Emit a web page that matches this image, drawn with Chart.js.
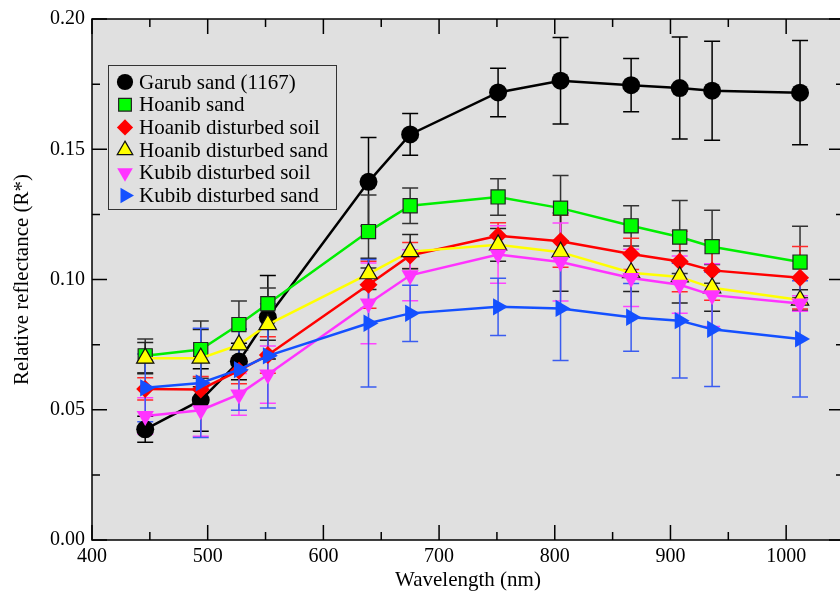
<!DOCTYPE html>
<html>
<head>
<meta charset="utf-8">
<script src="https://cdn.jsdelivr.net/npm/chart.js@4"></script>
<style>
  html, body { margin: 0; padding: 0; overflow: hidden; background: #fff; }
  #wrap { position: absolute; left: 0; top: 0; width: 860px; height: 598px; }
</style>
</head>
<body>
<div id="wrap"><canvas id="myChart"></canvas></div>
<script>
// wavelengths (nm)
const wavelengths = [446, 494, 527, 552, 639, 675, 751, 805, 866, 908, 936, 1012];

// series values and their errors (R*)
const garubSand = [0.0425, 0.0537, 0.0685, 0.0855, 0.1375, 0.1557, 0.1718, 0.1763, 0.1746, 0.1735, 0.1725, 0.1717];
const garubSandErr = [0.005, 0.012, 0.007, 0.016, 0.017, 0.008, 0.0093, 0.0166, 0.0102, 0.0196, 0.019, 0.020];

const hoanibSand = [0.0707, 0.0731, 0.0827, 0.0907, 0.1184, 0.1283, 0.1317, 0.1274, 0.1206, 0.1163, 0.1126, 0.1067];
const hoanibSandErr = [0.0065, 0.011, 0.009, 0.006, 0.014, 0.0068, 0.007, 0.0125, 0.0077, 0.014, 0.014, 0.0137];

const hoanibDistSoil = [0.058, 0.0578, 0.065, 0.071, 0.098, 0.1092, 0.1168, 0.1147, 0.1098, 0.1069, 0.1035, 0.1007];
const hoanibDistSoilErr = [0.0043, 0.005, 0.005, 0.007, 0.009, 0.005, 0.005, 0.01, 0.006, 0.0116, 0.0115, 0.012];

const hoanibDistSand = [0.0698, 0.0698, 0.0749, 0.0827, 0.1022, 0.1107, 0.1133, 0.1105, 0.1026, 0.101, 0.0968, 0.0921];
const hoanibDistSandErr = [0.006, 0.011, 0.006, 0.006, 0.006, 0.0066, 0.0063, 0.015, 0.0072, 0.01, 0.009, 0.004];

const kubibDistSoil = [0.0476, 0.0498, 0.0559, 0.0635, 0.0908, 0.1016, 0.1096, 0.1067, 0.1006, 0.098, 0.094, 0.0908];
const kubibDistSoilErr = [0.007, 0.010, 0.008, 0.011, 0.0155, 0.0098, 0.011, 0.015, 0.011, 0.011, 0.012, 0.003];

const kubibDistSand = [0.0584, 0.0603, 0.0654, 0.0707, 0.0832, 0.087, 0.0895, 0.0889, 0.0855, 0.0842, 0.0809, 0.0772];
const kubibDistSandErr = [0.013, 0.021, 0.0156, 0.020, 0.0245, 0.0108, 0.011, 0.02, 0.013, 0.022, 0.022, 0.0223];

// tick labels
const xTicks = [400, 500, 600, 700, 800, 900, 1000];
const yTicks = [0, 0.05, 0.10, 0.15, 0.20];

const serif = "'Liberation Serif', 'DejaVu Serif', serif";

function pts(values) {
  return values.map((v, i) => ({ x: wavelengths[i], y: v }));
}

const series = [
  { label: 'Garub sand (1167)', data: garubSand, err: garubSandErr, line: '#000000', fill: '#000000', edge: '#000000', errColor: '#000000', style: 'circle', radius: 9, rotation: 0, edgeWidth: 0 },
  { label: 'Hoanib sand', data: hoanibSand, err: hoanibSandErr, line: '#00ee00', fill: '#00ff00', edge: '#222222', errColor: '#333333', style: 'rect', radius: 10, rotation: 0, edgeWidth: 1.2 },
  { label: 'Hoanib disturbed soil', data: hoanibDistSoil, err: hoanibDistSoilErr, line: '#ff0000', fill: '#ff0000', edge: '#ff0000', errColor: '#ff2a2a', style: 'rectRot', radius: 9, rotation: 0, edgeWidth: 0 },
  { label: 'Hoanib disturbed sand', data: hoanibDistSand, err: hoanibDistSandErr, line: '#ffff00', fill: '#ffff00', edge: '#111111', errColor: '#222222', style: 'triangle', radius: 10, rotation: 0, edgeWidth: 1.2 },
  { label: 'Kubib disturbed soil', data: kubibDistSoil, err: kubibDistSoilErr, line: '#ff33ff', fill: '#ff33ff', edge: '#ff33ff', errColor: '#ff44ff', style: 'triangle', radius: 10, rotation: 180, edgeWidth: 0 },
  { label: 'Kubib disturbed sand', data: kubibDistSand, err: kubibDistSandErr, line: '#1450ff', fill: '#1450ff', edge: '#1450ff', errColor: '#3a5cf0', style: 'triangle', radius: 10, rotation: 90, edgeWidth: 0 }
];

// grey plot background
const plotBackground = {
  id: 'plotBackground',
  beforeDraw(chart) {
    const { ctx, chartArea: a } = chart;
    ctx.save();
    ctx.fillStyle = '#e0e0e0';
    ctx.fillRect(a.left, a.top, a.right - a.left, a.bottom - a.top);
    ctx.restore();
  }
};

// vertical error bars with caps
const errorBars = {
  id: 'errorBars',
  beforeDatasetsDraw(chart) {
    const { ctx } = chart;
    const xs = chart.scales.x, ys = chart.scales.y;
    ctx.save();
    ctx.lineWidth = 1.5;
    series.forEach((s) => {
      ctx.strokeStyle = s.errColor;
      s.data.forEach((v, i) => {
        const px = xs.getPixelForValue(wavelengths[i]);
        const top = ys.getPixelForValue(v + s.err[i]);
        const bot = ys.getPixelForValue(v - s.err[i]);
        ctx.beginPath();
        ctx.moveTo(px, top); ctx.lineTo(px, bot);
        ctx.moveTo(px - 8, top); ctx.lineTo(px + 8, top);
        ctx.moveTo(px - 8, bot); ctx.lineTo(px + 8, bot);
        ctx.stroke();
      });
    });
    ctx.restore();
  }
};

// frame with inward ticks on all four sides
const frameTicks = {
  id: 'frameTicks',
  afterDatasetsDraw(chart) {
    const { ctx, chartArea: a } = chart;
    const xs = chart.scales.x, ys = chart.scales.y;
    ctx.save();
    ctx.strokeStyle = '#000';
    ctx.lineWidth = 1.5;
    ctx.strokeRect(a.left, a.top, a.right - a.left, a.bottom - a.top);
    ctx.beginPath();
    for (let v = 400; v <= 1050; v += 50) {
      const len = v % 100 === 0 ? 15 : 8;
      const px = xs.getPixelForValue(v);
      ctx.moveTo(px, a.bottom); ctx.lineTo(px, a.bottom - len);
      ctx.moveTo(px, a.top); ctx.lineTo(px, a.top + len);
    }
    for (let k = 0; k <= 8; k++) {
      const v = k * 0.025;
      const len = k % 2 === 0 ? 15 : 8;
      const py = ys.getPixelForValue(v);
      ctx.moveTo(a.left, py); ctx.lineTo(a.left + len, py);
      ctx.moveTo(a.right, py); ctx.lineTo(a.right - len, py);
    }
    ctx.stroke();
    ctx.restore();
  }
};

// legend box inside the plot
const innerLegend = {
  id: 'innerLegend',
  afterDraw(chart) {
    const { ctx } = chart;
    const left = 108, top = 65, width = 228, height = 144;
    ctx.save();
    ctx.fillStyle = '#e0e0e0';
    ctx.fillRect(left, top, width, height);
    ctx.strokeStyle = '#333';
    ctx.lineWidth = 1;
    ctx.strokeRect(left + 0.5, top + 0.5, width, height);
    ctx.font = '21px ' + serif;
    ctx.textBaseline = 'middle';
    series.forEach((s, i) => {
      const y = 82 + i * 22.7;
      ctx.fillStyle = s.fill;
      ctx.strokeStyle = s.edge;
      ctx.lineWidth = s.edgeWidth;
      Chart.helpers.drawPoint(ctx, { pointStyle: s.style, radius: s.radius * 0.9, rotation: s.rotation, borderWidth: s.edgeWidth }, 125, y);
      ctx.fillStyle = '#000';
      ctx.fillText(s.label, 139, y + 1);
    });
    ctx.restore();
  }
};

new Chart(document.getElementById('myChart'), {
  type: 'line',
  data: {
    datasets: series.map((s, i) => ({
      label: s.label,
      data: pts(s.data),
      order: series.length - i,
      borderColor: s.line,
      borderWidth: 2.5,
      backgroundColor: s.fill,
      pointBackgroundColor: s.fill,
      pointBorderColor: s.edge,
      pointBorderWidth: s.edgeWidth,
      pointStyle: s.style,
      pointRadius: s.radius,
      pointRotation: s.rotation,
      tension: 0,
      fill: false
    }))
  },
  options: {
    responsive: true,
    maintainAspectRatio: false,
    animation: false,
    layout: { padding: { top: 15, right: 16, left: 0, bottom: 0 } },
    scales: {
      x: {
        type: 'linear',
        min: 400,
        max: 1050,
        afterBuildTicks: (scale) => { scale.ticks = xTicks.map((v) => ({ value: v })); },
        afterFit: (scale) => { scale.height = 58; },
        grid: { display: false, drawTicks: false },
        border: { display: false },
        ticks: { color: '#000', font: { family: serif, size: 20 }, padding: 5, maxRotation: 0, callback: (v) => String(v) },
        title: { display: true, text: 'Wavelength (nm)', color: '#000', font: { family: serif, size: 21 }, padding: { top: 0, bottom: 5 } }
      },
      y: {
        min: 0,
        max: 0.2,
        afterBuildTicks: (scale) => { scale.ticks = yTicks.map((v) => ({ value: v })); },
        afterFit: (scale) => { scale.width = 92; },
        grid: { display: false, drawTicks: false },
        border: { display: false },
        ticks: { color: '#000', font: { family: serif, size: 20 }, padding: 7, callback: (v) => v.toFixed(2) },
        title: { display: true, text: 'Relative reflectance (R*)', color: '#000', font: { family: serif, size: 21 }, padding: { top: 10, bottom: 0 } }
      }
    },
    plugins: {
      legend: { display: false },
      tooltip: { enabled: false }
    }
  },
  plugins: [plotBackground, errorBars, frameTicks, innerLegend]
});
</script>
</body>
</html>
